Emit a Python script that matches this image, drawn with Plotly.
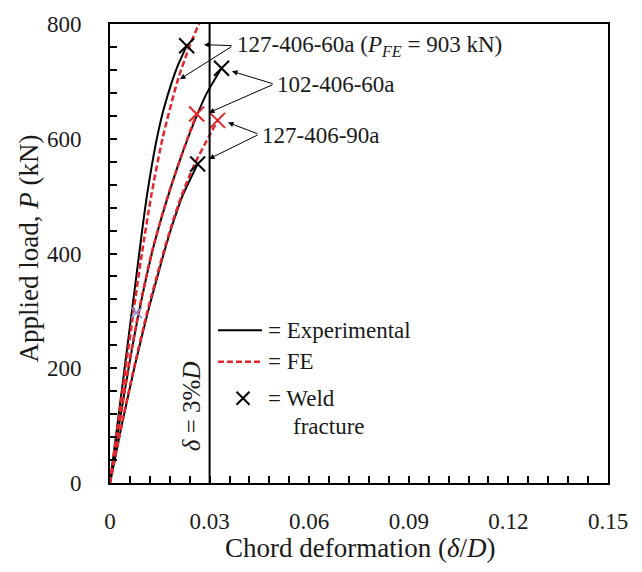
import plotly.graph_objects as go

# ---- data ----
p_exp_1 = [0, 100, 200, 300, 400, 450, 500, 550, 600, 650, 700, 730, 762]
x_exp_1 = [0, 0.0022, 0.0044, 0.0066, 0.0088, 0.0099, 0.0111, 0.0125, 0.0141, 0.0161, 0.0187, 0.0206, 0.0231]
p_fe_1 = [0, 100, 200, 300, 400, 500, 600, 700, 762, 800, 903]
x_fe_1 = [0, 0.0023, 0.0047, 0.0071, 0.0096, 0.0124, 0.0158, 0.0203, 0.0240, 0.0268, 0.0360]

p_exp_2 = [0, 100, 200, 300, 400, 450, 500, 550, 600, 640, 680, 723]
x_exp_2 = [0, 0.0027, 0.0056, 0.0088, 0.0126, 0.0149, 0.0175, 0.0203, 0.0234, 0.0261, 0.0292, 0.0336]
p_fe_2 = [0, 100, 200, 300, 400, 500, 600, 643]
x_fe_2 = [0, 0.0027, 0.0055, 0.0087, 0.0125, 0.0174, 0.0233, 0.0261]

p_exp_3 = [0, 100, 200, 300, 400, 450, 500, 556]
x_exp_3 = [0, 0.0035, 0.0073, 0.0115, 0.0162, 0.0188, 0.0218, 0.0264]
p_fe_3 = [0, 100, 200, 300, 400, 450, 500, 556, 603, 632]
x_fe_3 = [0, 0.0035, 0.0072, 0.0113, 0.0160, 0.0186, 0.0215, 0.0255, 0.0297, 0.0324]

fracture_black_x = [0.0231, 0.0336, 0.0264]
fracture_black_p = [762, 723, 556]
fracture_red_x = [0.0261, 0.0324]
fracture_red_p = [643, 632]
stray_x = [0.0080]
stray_p = [297]

x_ticks = [0, 0.03, 0.06, 0.09, 0.12, 0.15]
x_tick_labels = ["0", "0.03", "0.06", "0.09", "0.12", "0.15"]
y_ticks = [0, 200, 400, 600, 800]

RED = "#e3262b"
FONT = "Liberation Serif"
TXT = "#1a1a1a"

fig = go.Figure()
for xs, ps in [(x_exp_1, p_exp_1), (x_exp_2, p_exp_2), (x_exp_3, p_exp_3)]:
    fig.add_trace(go.Scatter(x=xs, y=ps, mode="lines",
                             line=dict(color="black", width=2, shape="spline", smoothing=0.6),
                             showlegend=False))
for xs, ps in [(x_fe_1, p_fe_1), (x_fe_2, p_fe_2), (x_fe_3, p_fe_3)]:
    fig.add_trace(go.Scatter(x=xs, y=ps, mode="lines",
                             line=dict(color=RED, width=2.5, dash="6px,3px", shape="spline", smoothing=0.6),
                             showlegend=False))
fig.add_trace(go.Scatter(x=fracture_black_x, y=fracture_black_p, mode="markers",
                         marker=dict(symbol="x-thin", size=15, line=dict(color="black", width=2)),
                         showlegend=False))
fig.add_trace(go.Scatter(x=fracture_red_x, y=fracture_red_p, mode="markers",
                         marker=dict(symbol="x-thin", size=15, line=dict(color=RED, width=2)),
                         showlegend=False))
fig.add_trace(go.Scatter(x=stray_x, y=stray_p, mode="markers",
                         marker=dict(symbol="x-thin", size=11, line=dict(color="#8c8fd6", width=1.5)),
                         showlegend=False))

# 3% D line
fig.add_shape(type="line", x0=0.03, x1=0.03, y0=0, y1=800, xref="x", yref="y",
              line=dict(color="black", width=2))

def px2x(px):
    return (px - 110) * 0.15 / 498

def py2y(py):
    return (483 - py) * 800 / 466

# custom legend inside the plot
fig.add_shape(type="line", x0=px2x(218), x1=px2x(262), y0=py2y(328), y1=py2y(328),
              line=dict(color="black", width=2))
fig.add_shape(type="line", x0=px2x(218), x1=px2x(262), y0=py2y(360), y1=py2y(360),
              line=dict(color=RED, width=2.5, dash="6px,3px"))
fig.add_trace(go.Scatter(x=[px2x(243)], y=[py2y(397)], mode="markers",
                         marker=dict(symbol="x-thin", size=13, line=dict(color="black", width=2)),
                         showlegend=False, hoverinfo="skip"))

annos = []
def txt(px, py, text, size=23, xanchor="left", textangle=0):
    annos.append(dict(x=px2x(px), y=py2y(py), xref="x", yref="y", text=text, showarrow=False,
                      xanchor=xanchor, yanchor="middle", textangle=textangle,
                      font=dict(family=FONT, size=size, color=TXT)))

txt(266, 328, "= Experimental")
txt(266, 360, "= FE")
txt(266, 397, "= Weld")
txt(291, 426, "fracture")
txt(191, 405, "<i>δ</i> = 3%<i>D</i>", size=25, xanchor="center", textangle=-90)

txt(235, 39, "127-406-60a (<i>P<sub>FE</sub></i> = 903 kN)")
txt(275, 78, "102-406-60a")
txt(260, 130, "127-406-90a")

def arrow(tail, tip):
    annos.append(dict(x=px2x(tip[0]), y=py2y(tip[1]), ax=px2x(tail[0]), ay=py2y(tail[1]),
                      xref="x", yref="y", axref="x", ayref="y", text="", showarrow=True,
                      arrowhead=2, arrowsize=1.1, arrowwidth=1, arrowcolor="black"))

arrow((233, 39), (204, 38))
arrow((233, 39), (180, 73))
arrow((274, 78), (232, 65))
arrow((274, 78), (209, 107))
arrow((259, 129), (228, 117))
arrow((259, 129), (209, 154))

# axis titles as annotations (pixel-placed)
annos.append(dict(x=(360 - 110) / 498, y=(483 - 549) / 466, xref="paper", yref="paper",
                  text="Chord deformation (<i>δ</i>/<i>D</i>)", showarrow=False,
                  xanchor="center", yanchor="middle", font=dict(family=FONT, size=27, color=TXT)))
annos.append(dict(x=(29 - 110) / 498, y=(483 - 245) / 466, xref="paper", yref="paper",
                  text="Applied load, <i>P</i> (kN)", showarrow=False, textangle=-90,
                  xanchor="center", yanchor="middle", font=dict(family=FONT, size=27, color=TXT)))

fig.update_layout(
    width=642, height=572,
    margin=dict(l=110, r=34, t=17, b=89),
    paper_bgcolor="white", plot_bgcolor="white",
    font=dict(family=FONT, size=23, color=TXT),
    annotations=annos,
    xaxis=dict(range=[0, 0.15], tickvals=x_ticks, ticktext=x_tick_labels,
               ticks="inside", ticklen=7, tickwidth=1.5, tickcolor="black",
               minor=dict(dtick=0.006, ticks="inside", ticklen=7, tickwidth=1.5, tickcolor="black", showgrid=False),
               showline=True, linecolor="black", linewidth=2, mirror=True, showgrid=False, zeroline=False,
               ticklabelstandoff=16, tickfont=dict(size=23)),
    yaxis=dict(range=[0, 800], tickvals=y_ticks,
               ticks="inside", ticklen=7, tickwidth=1.5, tickcolor="black",
               minor=dict(dtick=40, ticks="inside", ticklen=7, tickwidth=1.5, tickcolor="black", showgrid=False),
               showline=True, linecolor="black", linewidth=2, mirror=True, showgrid=False, zeroline=False,
               ticklabelstandoff=22, tickfont=dict(size=23)),
)
fig.write_html("out.html")
